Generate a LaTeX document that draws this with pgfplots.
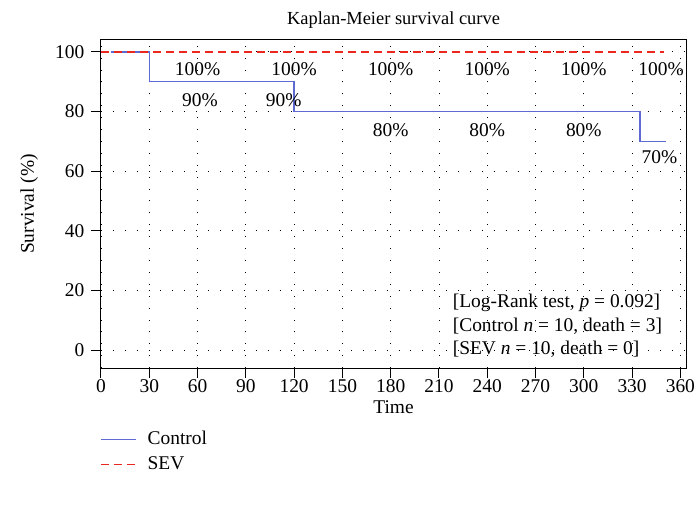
\documentclass[border=0pt]{standalone}
\usepackage{fontspec}
\setmainfont{Liberation Serif}
\usepackage{pgfplots}
\pgfplotsset{compat=1.18}
\definecolor{ctrlblue}{RGB}{95,105,210}
\definecolor{sevred}{RGB}{235,40,30}
\begin{document}
\fontsize{19.5}{23}\selectfont
\begin{tikzpicture}
\path[use as bounding box] (-101bp,-139bp) rectangle (595bp,368bp);
\begin{axis}[
  at={(0,0)}, anchor=south west,
  scale only axis,
  width=585bp, height=328bp,
  xmin=0, xmax=363.5, ymin=-6, ymax=104,
  xtick={0,30,...,360}, ytick={0,20,...,100},
  tick align=outside, tick pos=left,
  major tick length=10bp,
  /pgf/number format/assume math mode=true,
  ticklabel style={font=\fontsize{19.5}{23}\selectfont},
  xticklabel style={yshift=5bp},
  grid=major,
  major grid style={black, line width=0.9bp, dash pattern=on 0.9bp off 11bp},
  axis line style={black, line width=1bp},
  every tick/.style={black, line width=1bp},
  title={Kaplan-Meier survival curve},
  title style={font=\fontsize{18.5}{22}\selectfont, yshift=-1bp},
  xlabel={Time}, ylabel={Survival (\%)},
  xlabel style={font=\fontsize{19.5}{23}\selectfont, yshift=5bp},
  ylabel style={font=\fontsize{19.5}{23}\selectfont, yshift=4bp},
  legend style={at={(0,0)}, anchor=north west, yshift=-59bp, xshift=-4bp, draw=none, fill=none,
    font=\fontsize{19.5}{23}\selectfont, row sep=5bp, column sep=9bp},
  legend cell align=left,
  legend image code/.code={\draw[#1] (0bp,0bp) -- (35bp,0bp);},
]
\addplot[color=ctrlblue, line width=1.5bp, const plot] coordinates {
 (6,100) (30,90) (120,80) (335,70) (351,70)};
\addlegendentry{Control}
\addplot[color=sevred, line width=1.4bp, dashed, dash pattern=on 8bp off 5bp] coordinates {
 (0,100) (350,100)};
\addlegendentry{SEV}
\node at (axis cs:60,94.3) {100\%};
\node at (axis cs:120,94.3) {100\%};
\node at (axis cs:180,94.3) {100\%};
\node at (axis cs:240,94.3) {100\%};
\node at (axis cs:300,94.3) {100\%};
\node at (axis cs:348,94.3) {100\%};
\node at (axis cs:61.5,83.9) {90\%};
\node at (axis cs:113.5,83.9) {90\%};
\node at (axis cs:180,73.8) {80\%};
\node at (axis cs:240,73.8) {80\%};
\node at (axis cs:300,73.8) {80\%};
\node at (axis cs:347,64.8) {70\%};
\node[anchor=west, inner sep=0pt] at (axis cs:218.5,16.0) {[Log-Rank test, \textit{p} = 0.092]};
\node[anchor=west, inner sep=0pt] at (axis cs:218.5,8.1) {[Control \textit{n} = 10, death = 3]};
\node[anchor=west, inner sep=0pt] at (axis cs:218.5,0.4) {[SEV \textit{n} = 10, death = 0]};
\end{axis}
\end{tikzpicture}
\end{document}
